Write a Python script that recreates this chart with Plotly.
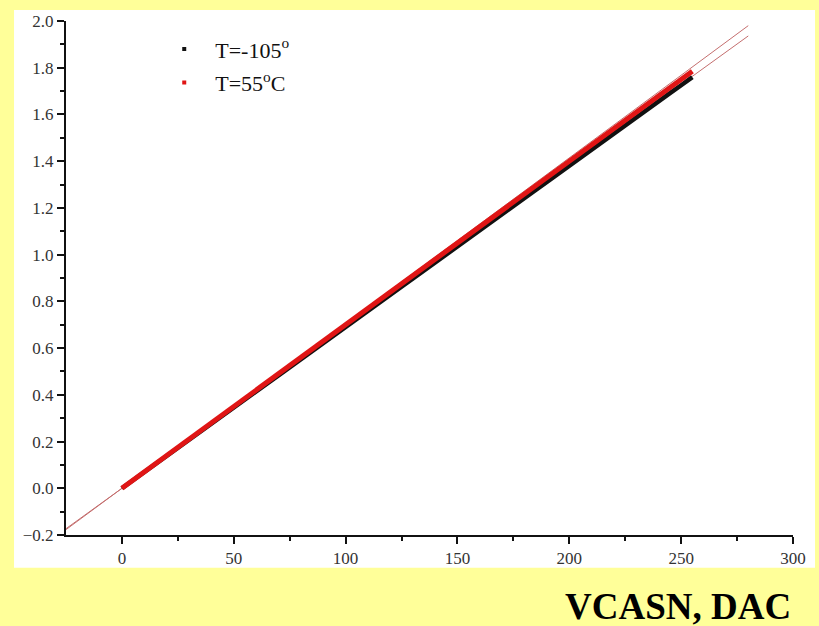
import plotly.graph_objects as go

# DAC setting (sampled every 5 codes) and measured VCASN output in volts
dac = [0, 5, 10, 15, 20, 25, 30, 35, 40, 45, 50, 55, 60, 65, 70, 75, 80, 85, 90, 95,
       100, 105, 110, 115, 120, 125, 130, 135, 140, 145, 150, 155, 160, 165, 170, 175,
       180, 185, 190, 195, 200, 205, 210, 215, 220, 225, 230, 235, 240, 245, 250, 255]

v_cold = [0.000, 0.035, 0.069, 0.104, 0.138, 0.173, 0.207, 0.242, 0.276, 0.311, 0.345,
          0.380, 0.414, 0.449, 0.483, 0.518, 0.552, 0.587, 0.621, 0.656, 0.690,
          0.725, 0.759, 0.794, 0.828, 0.863, 0.897, 0.932, 0.966, 1.001, 1.035,
          1.070, 1.104, 1.139, 1.173, 1.208, 1.242, 1.277, 1.311, 1.346, 1.380,
          1.415, 1.449, 1.484, 1.518, 1.553, 1.587, 1.622, 1.656, 1.691, 1.725, 1.760]

v_warm = [0.000, 0.035, 0.070, 0.105, 0.140, 0.175, 0.210, 0.245, 0.280, 0.315, 0.350,
          0.385, 0.420, 0.455, 0.490, 0.525, 0.560, 0.595, 0.630, 0.665, 0.700,
          0.735, 0.770, 0.805, 0.840, 0.875, 0.910, 0.945, 0.980, 1.015, 1.050,
          1.085, 1.120, 1.155, 1.190, 1.225, 1.260, 1.295, 1.330, 1.365, 1.400,
          1.435, 1.470, 1.505, 1.540, 1.575, 1.610, 1.645, 1.680, 1.715, 1.752, 1.785]

# Linear fit lines, end points
fit_x = [-25, 280]
fit_warm = [-0.177, 1.980]
fit_cold = [-0.173, 1.936]

series_names = ["T=-105<sup>o</sup>", "T=55<sup>o</sup>C"]

SERIF = "Liberation Serif, Times New Roman, serif"
FIT_COLOR = "rgb(196,110,110)"
COLD = "#111111"
WARM = "#e01515"

fig = go.Figure()

for fy in (fit_cold, fit_warm):
    fig.add_trace(go.Scatter(x=fit_x, y=fy, mode="lines",
                             line=dict(color=FIT_COLOR, width=1),
                             showlegend=False, hoverinfo="skip"))

fig.add_trace(go.Scatter(x=dac, y=v_cold, mode="lines",
                         line=dict(color=COLD, width=4.5), showlegend=False))
fig.add_trace(go.Scatter(x=dac, y=v_warm, mode="lines",
                         line=dict(color=WARM, width=5), showlegend=False))

# Legend entries shown as small square markers
for name, col, grp in ((series_names[0], COLD, "a"), (series_names[1], WARM, "b")):
    fig.add_trace(go.Scatter(x=[None], y=[None], mode="markers", name=name,
                             legendgroup=grp,
                             marker=dict(symbol="square", size=4, color=col)))

fig.update_layout(
    width=819, height=626,
    paper_bgcolor="#ffff99",
    plot_bgcolor="white",
    margin=dict(l=66, r=26, t=18, b=91),
    font=dict(family=SERIF, color="#333333", size=17),
    legend=dict(x=0.12, y=0.986, xanchor="left", yanchor="top",
                bgcolor="rgba(0,0,0,0)", tracegroupgap=2, itemwidth=52,
                font=dict(family=SERIF, size=22, color="#111111")),
    shapes=[dict(type="rect", xref="paper", yref="paper",
                 x0=-0.0715, x1=1.0303, y0=-0.0638, y1=1.0213,
                 fillcolor="white", line=dict(width=0), layer="below")],
    annotations=[dict(text="<b>VCASN, DAC</b>", xref="paper", yref="paper",
                      x=0.9995, y=-0.14, xanchor="right", yanchor="middle",
                      showarrow=False,
                      font=dict(family=SERIF, size=37, color="#000000"))],
)

fig.update_xaxes(range=[-25, 300], tickvals=[0, 50, 100, 150, 200, 250, 300],
                 showgrid=False, zeroline=False, showline=True,
                 linecolor="#111111", linewidth=2,
                 ticks="outside", ticklen=7, tickwidth=2, tickcolor="#111111",
                 minor=dict(tickvals=[25, 75, 125, 175, 225, 275], ticks="outside",
                            ticklen=4, tickwidth=2, tickcolor="#111111"))
fig.update_yaxes(range=[-0.2, 2.0], tickvals=[-0.2, 0.0, 0.2, 0.4, 0.6, 0.8, 1.0,
                                               1.2, 1.4, 1.6, 1.8, 2.0],
                 tickformat=".1f",
                 showgrid=False, zeroline=False, showline=True,
                 linecolor="#111111", linewidth=2,
                 ticks="outside", ticklen=7, tickwidth=2, tickcolor="#111111",
                 minor=dict(tickvals=[-0.1, 0.1, 0.3, 0.5, 0.7, 0.9, 1.1, 1.3,
                                      1.5, 1.7, 1.9],
                            ticks="outside", ticklen=4, tickwidth=2,
                            tickcolor="#111111"))

fig.write_html("out.html")
